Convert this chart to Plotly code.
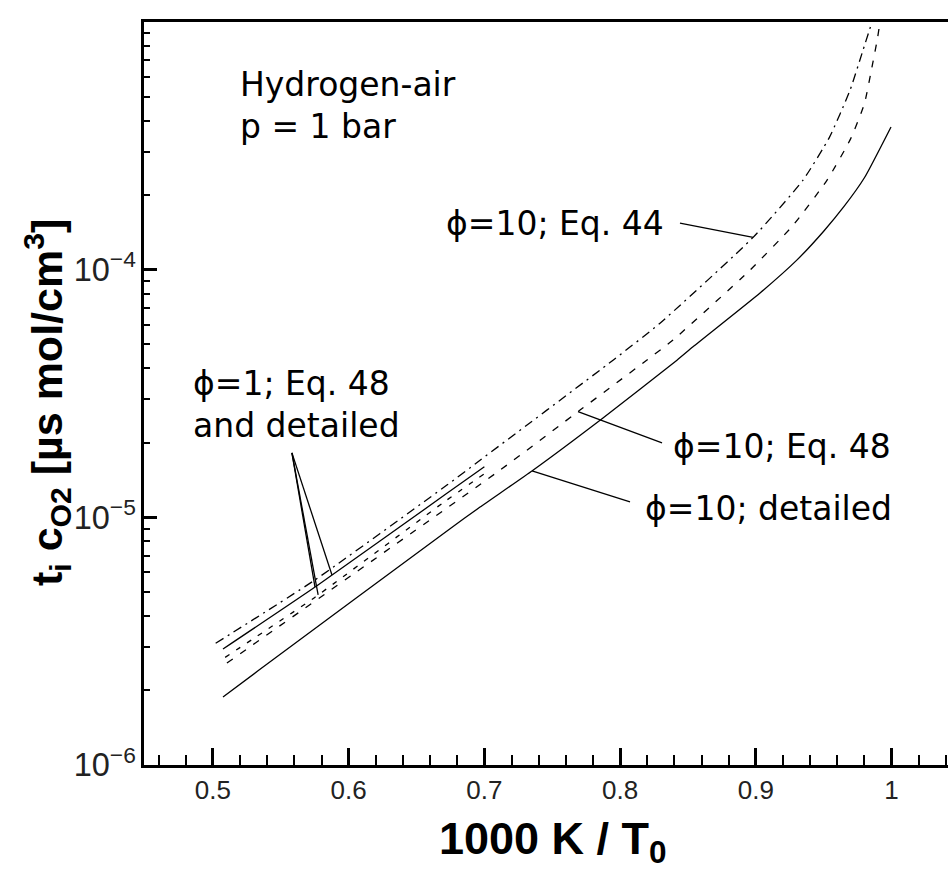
import numpy as np
import plotly.graph_objects as go

# Ignition delay times scaled by O2 concentration, t_i * c_O2 [us mol/cm^3]
# versus inverse initial temperature 1000 K / T0, hydrogen-air at 1 bar.

# phi = 10, Eq. 44 (dash-dot)
phi10_eq44_x = [0.502, 0.575, 0.6724, 0.6968, 0.7948, 0.8294, 0.898, 0.9348,
                0.9543, 0.9694, 0.979, 0.9856]
phi10_eq44_y = [3.10e-6, 5.58e-6, 1.35e-5, 1.70e-5, 4.31e-5, 6.08e-5, 1.35e-4,
                2.30e-4, 3.43e-4, 5.30e-4, 7.70e-4, 1.0e-3]

# phi = 10, Eq. 48 (dashed)
phi10_eq48_x = [0.5103, 0.7115, 0.7705, 0.8169, 0.839, 0.8957, 0.9274, 0.9525,
                0.97, 0.98, 0.986, 0.9895, 0.9915]
phi10_eq48_y = [2.58e-6, 1.55e-5, 2.71e-5, 4.20e-5, 5.20e-5, 9.96e-5, 1.51e-4,
                2.30e-4, 3.39e-4, 4.68e-4, 6.76e-4, 8.50e-4, 1.0e-3]

# phi = 10, detailed chemistry (solid)
phi10_det_x = [0.5074, 0.5332, 0.6747, 0.6968, 0.7358, 0.7874, 0.8419, 0.8537,
               0.9031, 0.93, 0.95, 0.965, 0.98, 0.9996]
phi10_det_y = [1.88e-6, 2.40e-6, 9.00e-6, 1.10e-5, 1.55e-5, 2.52e-5, 4.31e-5,
               4.88e-5, 8.05e-5, 1.09e-4, 1.43e-4, 1.80e-4, 2.35e-4, 3.77e-4]

# phi = 1, detailed chemistry (solid) and Eq. 48 (dashed)
phi1_det_x = [0.5074, 0.5774, 0.6724, 0.70]
phi1_det_y = [2.94e-6, 5.33e-6, 1.25e-5, 1.60e-5]
phi1_eq48_x = [0.509, 0.575, 0.67, 0.70]
phi1_eq48_y = [2.72e-6, 4.75e-6, 1.15e-5, 1.50e-5]

x_range = [0.4492, 1.0416]
y_range_log = [-6, -3]

FONT_TXT = "DejaVu Sans"
FONT_AX = "Liberation Sans, Arial, sans-serif"
LW = 1.3


def on_curve(xs, ys, x):
    """Value of a curve at x, interpolated in log space."""
    return float(10 ** np.interp(x, xs, np.log10(ys)))


fig = go.Figure()


def add_curve(xs, ys, dash):
    fig.add_trace(go.Scatter(
        x=xs, y=ys, mode="lines",
        line=dict(color="black", width=LW, dash=dash, shape="spline", smoothing=0.5),
        showlegend=False, hoverinfo="skip"))


add_curve(phi10_det_x, phi10_det_y, "solid")
add_curve(phi10_eq48_x, phi10_eq48_y, "7px,9px")
add_curve(phi1_eq48_x, phi1_eq48_y, "5px,8px")
add_curve(phi1_det_x, phi1_det_y, "solid")
add_curve(phi10_eq44_x, phi10_eq44_y, "9px,5px,2px,5px")


def leader(x0, y0, x1, y1):
    fig.add_trace(go.Scatter(
        x=[x0, x1], y=[y0, y1], mode="lines",
        line=dict(color="black", width=LW),
        showlegend=False, hoverinfo="skip"))


# leader lines from labels to curves
leader(0.8441, 1.54e-4, 0.898, on_curve(phi10_eq44_x, phi10_eq44_y, 0.898))
leader(0.8309, 2.0e-5, 0.769, on_curve(phi10_eq48_x, phi10_eq48_y, 0.769))
leader(0.8073, 1.154e-5, 0.7351, on_curve(phi10_det_x, phi10_det_y, 0.7351))
leader(0.5582, 1.82e-5, 0.5752, on_curve(phi1_det_x, phi1_det_y, 0.5752))
leader(0.5582, 1.82e-5, 0.5775, on_curve(phi1_eq48_x, phi1_eq48_y, 0.5775))
leader(0.5582, 1.82e-5, 0.5877, on_curve(phi1_det_x, phi1_det_y, 0.5877))

# plot area in pixels: left 144, right 948, top 22, bottom 765
PL, PR, PT, PB = 144, 948, 22, 765


def px(xp):
    return (xp - PL) / (PR - PL)


def py(yp):
    return (PB - yp) / (PB - PT)


def label(text, x, y, anchor="left", size=33, font=FONT_TXT, angle=0):
    fig.add_annotation(
        text=text, xref="paper", yref="paper", x=px(x), y=py(y),
        xanchor=anchor, yanchor="middle", showarrow=False, textangle=angle,
        font=dict(family=font, size=size, color="black"))


label("Hydrogen-air", 238, 85)
label("p = 1 bar", 238, 126)
label("\u03d5=10; Eq. 44", 666, 223, anchor="right")
label("\u03d5=1; Eq. 48", 191, 384)
label("and detailed", 191, 425)
label("\u03d5=10; Eq. 48", 671, 447)
label("\u03d5=10; detailed", 643, 508)

# axis titles
label("<b>1000 K / T<sub>0</sub></b>", 553, 841, anchor="center", size=45, font=FONT_AX)
label("<b>t<sub>i</sub> c<sub>O2</sub> [\u00b5s mol/cm<sup>3</sup>]</b>", 47, 403,
      anchor="center", size=43, font=FONT_AX, angle=-90)

axis_common = dict(
    showline=True, linewidth=3, linecolor="black",
    ticks="inside", tickwidth=3, tickcolor="black",
    showgrid=False, zeroline=False,
    tickfont=dict(family=FONT_AX, size=26, color="#222"),
)

fig.update_layout(
    width=948, height=870,
    margin=dict(l=PL, r=948 - PR, t=PT, b=870 - PB),
    paper_bgcolor="white", plot_bgcolor="white",
    xaxis=dict(range=x_range, tick0=0.5, dtick=0.1, ticklen=17, mirror=True,
               minor=dict(ticks="inside", dtick=0.02, ticklen=10, tickwidth=1.5,
                          tickcolor="black", showgrid=False),
               **axis_common),
    yaxis=dict(type="log", range=y_range_log, dtick=1, ticklen=13,
               exponentformat="power",
               minor=dict(ticks="inside", ticklen=6, tickwidth=1.5,
                          tickcolor="black", showgrid=False),
               **axis_common),
)

fig.write_html("out.html")
